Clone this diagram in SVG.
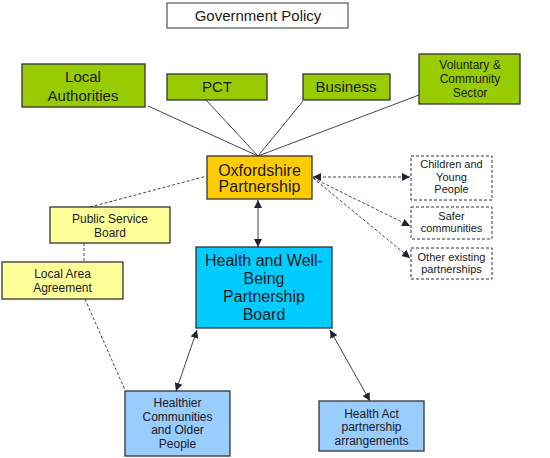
<svg xmlns="http://www.w3.org/2000/svg" width="550" height="458" viewBox="0 0 550 458">
<defs>
<marker id="ah" viewBox="0 0 10 10" refX="10" refY="5" markerWidth="8" markerHeight="8" markerUnits="userSpaceOnUse" orient="auto-start-reverse">
<path d="M0,0 L10,5 L0,10 z" fill="#222233"/>
</marker>
<style>
text{font-family:"Liberation Sans",Arial,sans-serif;fill:#1a1a1a;text-anchor:middle}
.box{stroke:#333333;stroke-width:1.3}
.dbox{fill:#ffffff;stroke:#333344;stroke-width:1;stroke-dasharray:3,2}
.ln{stroke:#444455;stroke-width:1;fill:none}
.dl{stroke:#444466;stroke-width:1;fill:none;stroke-dasharray:3,2}
.g{fill:#99cc00}
.t15{font-size:15px}
.t16{font-size:16px}
.t12{font-size:12px}
.t11{font-size:11px}
</style>
</defs>
<rect width="550" height="458" fill="#ffffff"/>
<g id="connectors">
<line class="ln" x1="148" y1="106" x2="258" y2="156"/>
<line class="ln" x1="206" y1="100" x2="258" y2="156"/>
<line class="ln" x1="303" y1="101" x2="258" y2="156"/>
<line class="ln" x1="419" y1="95" x2="258" y2="156"/>
<line class="ln" x1="258" y1="200" x2="258" y2="247" marker-start="url(#ah)" marker-end="url(#ah)"/>
<line class="dl" x1="313" y1="177" x2="410" y2="177" marker-start="url(#ah)" marker-end="url(#ah)"/>
<line class="dl" x1="313" y1="178" x2="410" y2="226" marker-end="url(#ah)"/>
<line class="dl" x1="313" y1="178" x2="410" y2="258" marker-end="url(#ah)"/>
<line class="dl" x1="90" y1="207" x2="207" y2="176"/>
<line class="dl" x1="84" y1="243" x2="84" y2="262"/>
<line class="dl" x1="85" y1="299" x2="125" y2="390"/>
<line class="ln" x1="197" y1="330" x2="176" y2="391" marker-start="url(#ah)" marker-end="url(#ah)"/>
<line class="ln" x1="330" y1="330" x2="370" y2="401" marker-start="url(#ah)" marker-end="url(#ah)"/>
</g>
<g id="government-policy">
<rect x="167" y="3" width="181" height="25" fill="#ffffff" stroke="#333344" stroke-width="1"/>
<text class="t15" x="258" y="21">Government Policy</text>
</g>
<g id="local-authorities">
<rect class="box g" x="22" y="64" width="123" height="43"/>
<text class="t15" x="83" y="82">Local</text>
<text class="t15" x="83" y="101">Authorities</text>
</g>
<g id="pct">
<rect class="box g" x="167" y="74" width="100" height="26"/>
<text class="t15" x="217" y="92">PCT</text>
</g>
<g id="business">
<rect class="box g" x="303" y="74" width="87" height="26"/>
<text class="t15" x="346" y="92">Business</text>
</g>
<g id="voluntary">
<rect class="box g" x="419" y="54" width="101" height="50"/>
<text class="t12" x="470" y="69">Voluntary &amp;</text>
<text class="t12" x="470" y="83">Community</text>
<text class="t12" x="470" y="97">Sector</text>
</g>
<g id="oxfordshire-partnership">
<rect class="box" x="207" y="156" width="105" height="43" fill="#ffcc00"/>
<text class="t16" x="259.5" y="176">Oxfordshire</text>
<text class="t16" x="259.5" y="192">Partnership</text>
</g>
<g id="children">
<rect class="dbox" x="411" y="156" width="81" height="44"/>
<text class="t11" x="451.5" y="168">Children and</text>
<text class="t11" x="451.5" y="181">Young</text>
<text class="t11" x="451.5" y="193">People</text>
</g>
<g id="safer">
<rect class="dbox" x="411" y="207" width="81" height="32"/>
<text class="t11" x="451.5" y="220">Safer</text>
<text class="t11" x="451.5" y="232">communities</text>
</g>
<g id="other">
<rect class="dbox" x="411" y="248" width="81" height="31"/>
<text class="t11" x="451.5" y="261">Other existing</text>
<text class="t11" x="451.5" y="273">partnerships</text>
</g>
<g id="health-wellbeing">
<rect class="box" x="196" y="247" width="136" height="81" fill="#00ccff"/>
<text class="t16" x="264" y="266">Health and Well-</text>
<text class="t16" x="264" y="284">Being</text>
<text class="t16" x="264" y="302">Partnership</text>
<text class="t16" x="264" y="320">Board</text>
</g>
<g id="public-service-board">
<rect class="box" x="50" y="207" width="120" height="36" fill="#ffff99"/>
<text class="t12" x="110" y="223">Public Service</text>
<text class="t12" x="110" y="237">Board</text>
</g>
<g id="local-area-agreement">
<rect class="box" x="2" y="262" width="121" height="37" fill="#ffff99"/>
<text class="t12" x="62.5" y="278">Local Area</text>
<text class="t12" x="62.5" y="292">Agreement</text>
</g>
<g id="healthier-communities">
<rect class="box" x="125" y="391" width="105" height="65" fill="#99ccff"/>
<text class="t12" x="177.5" y="407">Healthier</text>
<text class="t12" x="177.5" y="421">Communities</text>
<text class="t12" x="177.5" y="434">and Older</text>
<text class="t12" x="177.5" y="448">People</text>
</g>
<g id="health-act">
<rect class="box" x="319" y="401" width="105" height="50" fill="#99ccff"/>
<text class="t12" x="371.5" y="418">Health Act</text>
<text class="t12" x="371.5" y="431">partnership</text>
<text class="t12" x="371.5" y="445">arrangements</text>
</g>
</svg>
